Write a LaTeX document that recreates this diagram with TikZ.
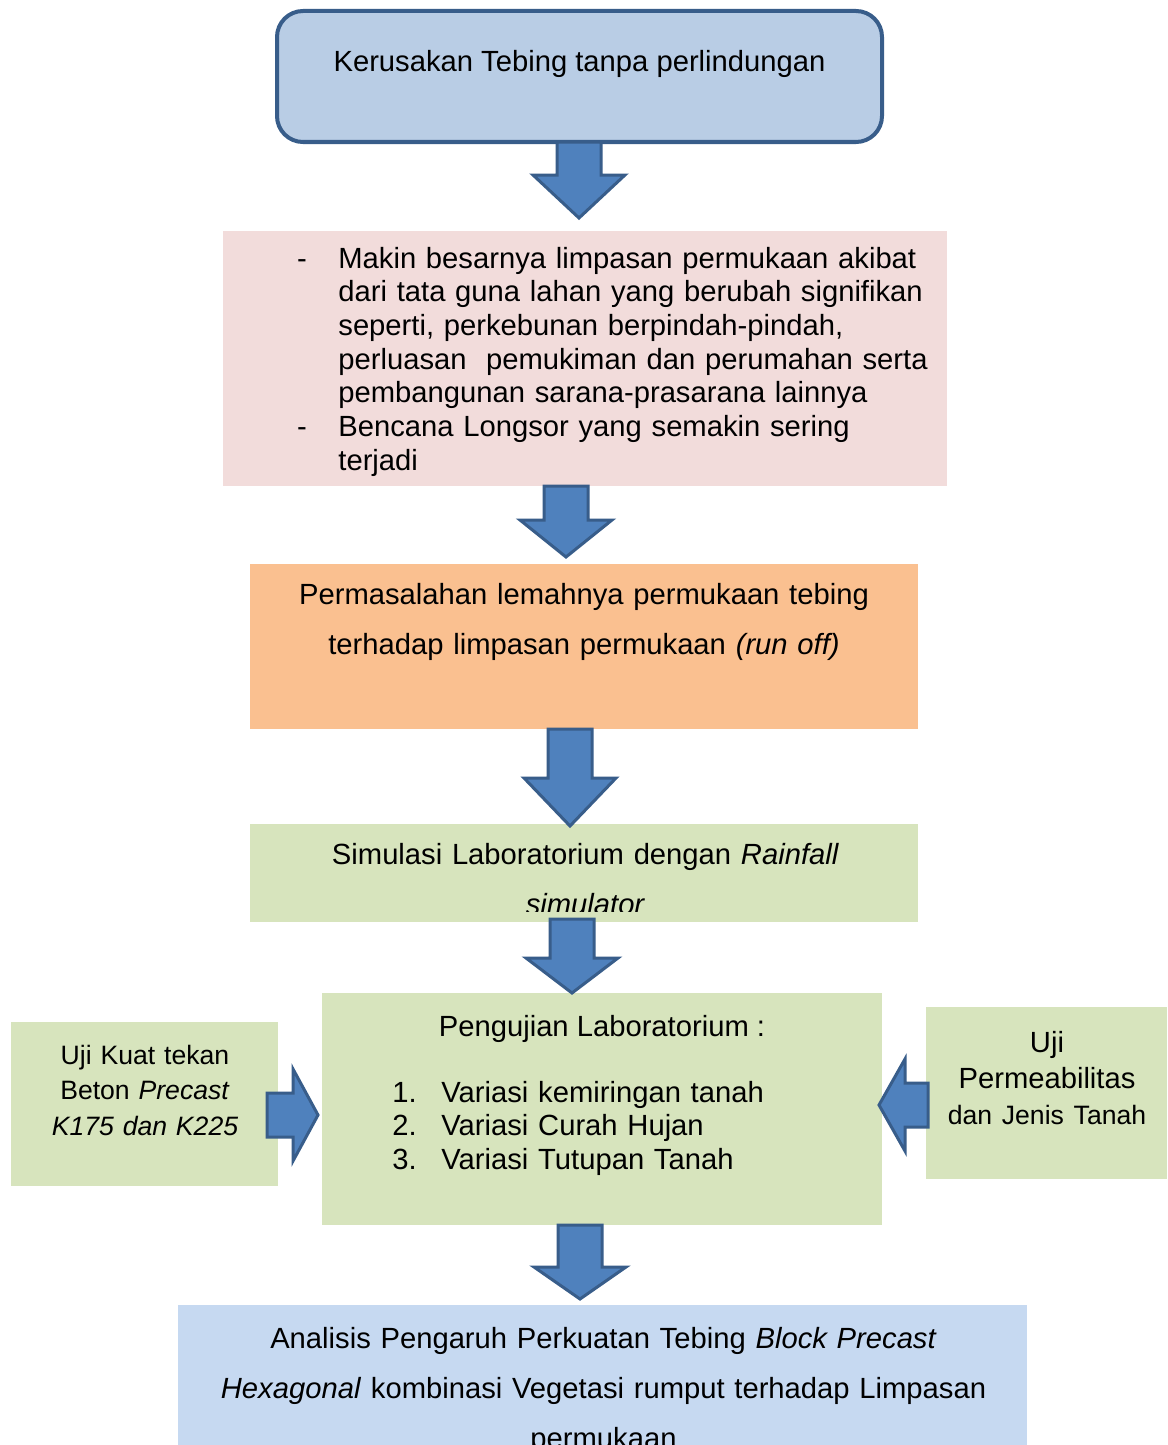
\documentclass[tikz,border=0pt]{standalone}
\usepackage{fontspec}
\setmainfont{Liberation Sans}
\usepackage{xcolor}
\usetikzlibrary{calc, positioning}

\definecolor{boxblue}{HTML}{B9CDE5}
\definecolor{boxpink}{HTML}{F2DCDB}
\definecolor{boxorange}{HTML}{FAC090}
\definecolor{boxgreen}{HTML}{D7E4BD}
\definecolor{boxlight}{HTML}{C6D9F1}
\definecolor{arrowfill}{HTML}{4F81BD}
\definecolor{arrowline}{HTML}{385D8A}

% block arrow from tail #2 to tip #3, head length #1
\newcommand{\fatarrow}[3][20pt]{%
  \coordinate (hb) at ($(#3)!#1!(#2)$);
  \draw[fatarrowstyle] ($(#2)!11pt!90:(#3)$) -- ($(hb)!11pt!90:(#3)$)
    -- ($(hb)!23pt!90:(#3)$) -- (#3) -- ($(hb)!23pt!-90:(#3)$)
    -- ($(hb)!11pt!-90:(#3)$) -- ($(#2)!11pt!-90:(#3)$) -- cycle;}

\begin{document}
\begin{tikzpicture}[
        x=0.5pt, y=-0.5pt,
        box/.style={rectangle, inner sep=0pt, outer sep=0pt, draw=none},
        txt/.style={inner sep=0pt, anchor=base, font=\fontsize{14.6}{16.85}\selectfont},
        fatarrowstyle/.style={fill=arrowfill, draw=arrowline, line width=1.5pt, line join=miter}
    ]
    \clip (0,0) rectangle (1167,1445);
    \fill[white] (0,0) rectangle (1167,1445);

    % boxes
    \node[box, fill=boxblue, draw=arrowline, line width=2pt, rounded corners=13pt,
          minimum width=302.5pt, minimum height=65.5pt] (kerusakan) at (579.5,76.5) {};
    \node[box, fill=boxpink, minimum width=362pt, minimum height=127.5pt] (dampak) at (585,358.5) {};
    \node[box, fill=boxorange, minimum width=334pt, minimum height=82.5pt] (masalah) at (584,646.5) {};
    \node[box, fill=boxgreen, minimum width=334pt, minimum height=49pt] (simulasi) at (584,873) {};
    \node[box, fill=boxgreen, minimum width=280pt, minimum height=116pt] (pengujian) at (602,1109) {};
    \node[box, fill=boxgreen, minimum width=133.5pt, minimum height=82pt] (kuat) at (144.5,1104) {};
    \node[box, fill=boxgreen, minimum width=120.5pt, minimum height=86pt] (permea) at (1046.5,1093) {};
    \node[box, fill=boxlight, minimum width=424.5pt, minimum height=77.5pt] (analisis) at (602.5,1382.5) {};

    % arrows
    \coordinate (a1) at (579,0);
    \coordinate (a2) at (566,0);
    \coordinate (a3) at (570,0);
    \coordinate (a4) at (572,0);
    \coordinate (a6) at (580,0);
    \coordinate (yl) at (0,1115);
    \coordinate (yr) at (0,1105);

    \coordinate (t1) at (a1 |- kerusakan.south);
    \coordinate (p1) at ($(a1 |- dampak.north)+(0,-13)$);
    \coordinate (t2) at (a2 |- dampak.south);
    \coordinate (p2) at ($(a2 |- masalah.north)+(0,-7)$);
    \coordinate (t3) at (a3 |- masalah.south);
    \coordinate (p3) at ($(a3 |- simulasi.north)+(0,2)$);
    \coordinate (t4) at ($(a4 |- simulasi.south)+(0,-3)$);
    \coordinate (p4) at (a4 |- pengujian.north);
    \coordinate (t6) at (a6 |- pengujian.south);
    \coordinate (p6) at ($(a6 |- analisis.north)+(0,-6)$);
    \coordinate (tl) at ($(kuat.east |- yl)+(-11,0)$);
    \coordinate (pl) at ($(pengujian.west |- yl)+(-4,0)$);
    \coordinate (tr) at ($(permea.west |- yr)+(2,0)$);
    \coordinate (pr) at ($(pengujian.east |- yr)+(-3,0)$);

    \fatarrow[21.5pt]{t1}{p1}
    \fatarrow[18.5pt]{t2}{p2}
    \fatarrow[24pt]{t3}{p3}
    \fatarrow[17.5pt]{t4}{p4}
    \fatarrow[16pt]{t6}{p6}
    \fatarrow[12.5pt]{tl}{pl}
    \fatarrow[13pt]{tr}{pr}

    % texts
    \node[txt] (t-kerusakan) at (579.5,72) {Kerusakan Tebing tanpa perlindungan};
    \node[txt, anchor=base west, text width=320pt, align=left] (t-dampak) at (338,268)
        {\leavevmode\llap{-\hspace{15.8pt}}Makin besarnya limpasan permukaan akibat\\
         dari tata guna lahan yang berubah signifikan\\
         seperti, perkebunan berpindah-pindah,\\
         perluasan~ pemukiman dan perumahan serta\\
         pembangunan sarana-prasarana lainnya\\
         \leavevmode\llap{-\hspace{15.8pt}}Bencana Longsor yang semakin sering\\
         terjadi};
    \node[txt, text width=330pt, align=center, font=\fontsize{14.6}{25}\selectfont] (t-masalah) at (584,604)
        {Permasalahan lemahnya permukaan tebing\\
         terhadap limpasan permukaan \textit{(run off)}};
    \begin{scope}
        \clip (simulasi.north west) rectangle ($(simulasi.south east)+(0,-11)$);
        \node[txt, text width=330pt, align=center, font=\fontsize{14.6}{25}\selectfont] (t-simulasi) at (585.5,864)
            {Simulasi Laboratorium dengan \textit{Rainfall}\\
             \textit{simulator}};
    \end{scope}
    \node[txt] (t-pengujian) at (602,1036) {Pengujian Laboratorium :};
    \node[txt, anchor=base west, text width=230pt, align=left] (t-variasi) at (392,1102)
        {\makebox[24.5pt][l]{1.}Variasi kemiringan tanah\\
         \makebox[24.5pt][l]{2.}Variasi Curah Hujan\\
         \makebox[24.5pt][l]{3.}Variasi Tutupan Tanah};
    \node[txt, text width=130pt, align=center, font=\fontsize{13.3}{17.75}\selectfont] (t-kuat) at (145,1064)
        {Uji Kuat tekan\\
         Beton \textit{Precast}\\
         \textit{K175 dan K225}};
    \node[txt, text width=118pt, align=center, font=\fontsize{14.6}{18}\selectfont] (t-permea) at (1047,1052)
        {Uji\\
         Permeabilitas\\
         {\fontsize{13.3}{18}\selectfont dan Jenis Tanah}};
    \node[txt, text width=420pt, align=center, font=\fontsize{14.6}{25}\selectfont] (t-analisis) at (603.5,1348)
        {Analisis Pengaruh Perkuatan Tebing \textit{Block Precast}\\
         \textit{Hexagonal} kombinasi Vegetasi rumput terhadap Limpasan\\
         permukaan};

\end{tikzpicture}
\end{document}
